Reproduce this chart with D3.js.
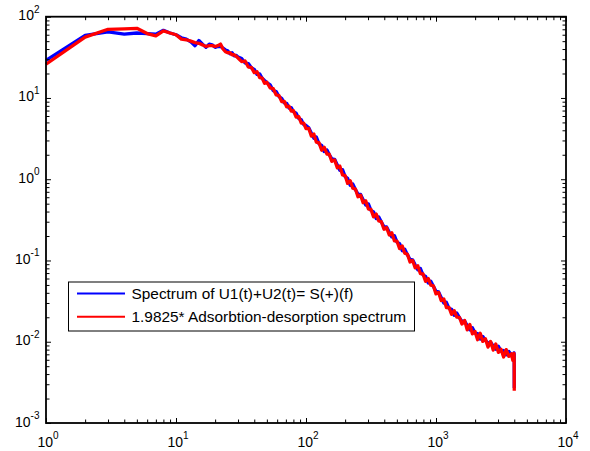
<!DOCTYPE html>
<html>
<head>
<meta charset="utf-8">
<script src="https://cdn.jsdelivr.net/npm/d3@7"></script>
<style>
  body { margin: 0; background: #fff; }
  text { font-family: "Liberation Sans", Arial, sans-serif; fill: #000; }
</style>
</head>
<body>
<div id="chart"></div>
<script>
// Frequencies (Hz) and spectra
const freq = [
  1, 2, 3, 4, 5, 6, 7, 8, 9, 10, 11, 12, 13, 14, 15, 16, 17, 18, 19, 20,
  21, 22, 23, 24, 25, 26, 27, 28, 29,
  30, 32, 34, 36, 38, 40, 42, 44, 46, 48, 50, 53, 56, 59, 62, 65, 68, 71, 74, 77,
  80, 84, 88, 92, 96, 100,
  105, 110, 115, 120, 126, 132, 138, 145, 151, 158, 166, 174, 182, 191, 200, 209,
  219, 229, 240, 251, 263, 275, 288, 302, 316, 331, 347, 363, 380, 398, 417, 437,
  457, 479, 501, 525, 550, 575, 603, 631, 661, 692, 724, 759, 794, 832, 871, 912,
  955, 1000, 1047, 1096, 1148, 1202, 1259, 1318, 1380, 1445, 1514, 1585, 1660,
  1738, 1820, 1905, 1995, 2089, 2188, 2291, 2399, 2512, 2630, 2754, 2884, 3020,
  3162, 3311, 3467, 3631, 3802, 3900, 3981, 3995, 4000
];

// Spectrum of U1(t)+U2(t) = S(+)(f)
const sumSpectrum = [
  29, 59, 65, 61, 63, 62, 61, 68, 63, 60, 55, 53, 49, 44, 51, 46, 42, 46, 45, 42,
  43, 43, 41, 39, 38, 35, 36, 33, 33.5,
  32, 30.5, 27, 26.5, 23.5, 22.5, 19.5, 19.8, 17.5, 16.4, 15.5, 14.5, 12.3, 12.0,
  10.4, 9.9, 8.7, 8.6, 7.5, 7.6, 6.8, 6.5, 5.6, 5.4, 4.7, 4.6,
  4.29, 3.68, 3.19, 3.31, 2.72, 2.61, 2.19, 2.29, 2.01, 1.78,
  1.76, 1.50, 1.29, 1.31, 1.076, 1.025, 0.840, 0.872, 0.749, 0.655,
  0.649, 0.559, 0.482, 0.497, 0.414, 0.397, 0.327, 0.343, 0.297, 0.260,
  0.259, 0.223, 0.195, 0.202, 0.168, 0.161, 0.132, 0.138, 0.118, 0.103,
  0.102, 0.0880, 0.0768, 0.0796, 0.0665, 0.0638, 0.0529, 0.0557, 0.0482, 0.0418,
  0.0410, 0.0350, 0.0300, 0.0306, 0.0257, 0.0251, 0.0212, 0.0226, 0.0198, 0.0177,
  0.0180, 0.0158, 0.0140, 0.0149, 0.0128, 0.0126, 0.0108, 0.0116, 0.0104, 0.0096,
  0.0099, 0.0089, 0.0081, 0.0088, 0.0077, 0.0078, 0.0069, 0.0076, 0.0069, 0.0067,
  0.0073, 0.0070, 0.0027
];

// 1.9825 * adsorption-desorption spectrum
const adsSpectrum = [
  26, 56, 70, 71, 72, 62, 58, 67, 63, 60, 53, 52, 50, 48, 47, 45, 43, 44, 44, 43,
  44, 46, 40, 37, 36, 36, 34, 34, 32.5,
  31, 28, 28.5, 24, 23.8, 20.5, 21, 17.8, 17.6, 15.2, 15.6, 13.3, 13.0, 10.9,
  10.7, 9.0, 9.1, 7.8, 7.9, 6.9, 7.0, 5.8, 5.9, 4.9, 4.9, 4.2,
  4.21, 3.39, 3.59, 2.86, 2.80, 2.27, 2.48, 2.04, 2.03, 1.66,
  1.73, 1.38, 1.45, 1.13, 1.108, 0.888, 0.955, 0.776, 0.756, 0.609,
  0.637, 0.515, 0.542, 0.429, 0.426, 0.344, 0.372, 0.306, 0.300, 0.242,
  0.254, 0.206, 0.219, 0.174, 0.173, 0.140, 0.151, 0.123, 0.119, 0.0959,
  0.100, 0.0811, 0.0863, 0.0688, 0.0685, 0.0553, 0.0602, 0.0496, 0.0487, 0.0388,
  0.0403, 0.0322, 0.0337, 0.0264, 0.0265, 0.0217, 0.0241, 0.0201, 0.0200, 0.0165,
  0.0183, 0.0140, 0.0163, 0.0125, 0.0134, 0.0106, 0.0127, 0.0101, 0.0109, 0.0086,
  0.0101, 0.0079, 0.0094, 0.0074, 0.0081, 0.0065, 0.0080, 0.0066, 0.0071, 0.0059,
  0.0072, 0.0063, 0.0025
];

const xMajor = [1, 10, 100, 1000, 10000];
const xExponents = ["0", "1", "2", "3", "4"];
const yMajor = [0.001, 0.01, 0.1, 1, 10, 100];
const yExponents = ["-3", "-2", "-1", "0", "1", "2"];
const legendLabels = [
  "Spectrum of U1(t)+U2(t)= S(+)(f)",
  "1.9825* Adsorbtion-desorption spectrum"
];
const seriesColors = ["#0000ff", "#ff0000"];

const width = 590, height = 451;
const plot = { left: 46, right: 566, top: 16.7, bottom: 423 };

const svg = d3.select("#chart").append("svg")
  .attr("width", width)
  .attr("height", height);

const x = d3.scaleLog().domain([1, 1e4]).range([plot.left, plot.right]);
const y = d3.scaleLog().domain([1e-3, 1e2]).range([plot.bottom, plot.top]);

// minor ticks 2..9 in each decade
const minorTicks = (lo, hi) => {
  const out = [];
  for (let e = lo; e < hi; e++) {
    for (let k = 2; k <= 9; k++) out.push(k * Math.pow(10, e));
  }
  return out;
};
const xMinor = minorTicks(0, 4);
const yMinor = minorTicks(-3, 2);

// Lines (blue underneath, red on top)
const line = d3.line()
  .x(d => x(d[0]))
  .y(d => y(d[1]));

[sumSpectrum, adsSpectrum].forEach((vals, i) => {
  svg.append("path")
    .datum(freq.map((f, j) => [f, vals[j]]))
    .attr("fill", "none")
    .attr("stroke", seriesColors[i])
    .attr("stroke-width", 3.3)
    .attr("stroke-linejoin", "round")
    .attr("d", line);
});

// Inward ticks on all four sides
function addTicks(axisFn, scale, values, size, transform) {
  const g = svg.append("g")
    .attr("transform", transform)
    .call(axisFn(scale).tickValues(values).tickSizeInner(-size).tickSizeOuter(0).tickFormat(""));
  g.select(".domain").remove();
  g.selectAll(".tick line").attr("stroke", "#000").attr("stroke-width", 1);
}
addTicks(d3.axisBottom, x, xMajor, 5, `translate(0,${plot.bottom})`);
addTicks(d3.axisBottom, x, xMinor, 3.5, `translate(0,${plot.bottom})`);
addTicks(d3.axisTop, x, xMajor, 5, `translate(0,${plot.top})`);
addTicks(d3.axisTop, x, xMinor, 3.5, `translate(0,${plot.top})`);
addTicks(d3.axisLeft, y, yMajor, 5, `translate(${plot.left},0)`);
addTicks(d3.axisLeft, y, yMinor, 3.5, `translate(${plot.left},0)`);
addTicks(d3.axisRight, y, yMajor, 5, `translate(${plot.right},0)`);
addTicks(d3.axisRight, y, yMinor, 3.5, `translate(${plot.right},0)`);

// Box
svg.append("rect")
  .attr("x", plot.left)
  .attr("y", plot.top)
  .attr("width", plot.right - plot.left)
  .attr("height", plot.bottom - plot.top)
  .attr("fill", "none")
  .attr("stroke", "#000")
  .attr("stroke-width", 1.8);

// Tick labels, 10 with superscript exponent
const xLab = svg.selectAll(".xlab")
  .data(xMajor)
  .join("text")
  .attr("class", "xlab")
  .attr("x", d => x(d) + 2)
  .attr("y", plot.bottom + 23.5)
  .attr("text-anchor", "middle")
  .style("font-size", "14px");
xLab.append("tspan").text("10");
xLab.append("tspan")
  .attr("dy", -7.5)
  .style("font-size", "10px")
  .text((d, i) => xExponents[i]);

const yLab = svg.selectAll(".ylab")
  .data(yMajor)
  .join("text")
  .attr("class", "ylab")
  .attr("x", plot.left - 6.5)
  .attr("y", d => y(d) + 3.5)
  .attr("text-anchor", "end")
  .style("font-size", "14px");
yLab.append("tspan").text("10");
yLab.append("tspan")
  .attr("dy", -7.5)
  .style("font-size", "10px")
  .text((d, i) => yExponents[i]);

// Legend
const legend = svg.append("g");
legend.append("rect")
  .attr("x", 68.5)
  .attr("y", 282)
  .attr("width", 346)
  .attr("height", 49)
  .attr("fill", "#fff")
  .attr("stroke", "#000")
  .attr("stroke-width", 1);

legendLabels.forEach((label, i) => {
  const ly = 293.5 + i * 23.3;
  legend.append("line")
    .attr("x1", 77).attr("x2", 125)
    .attr("y1", ly).attr("y2", ly)
    .attr("stroke", seriesColors[i])
    .attr("stroke-width", 2);
  legend.append("text")
    .attr("x", 131.5)
    .attr("y", ly + 5.5)
    .style("font-size", "15.4px")
    .text(label);
});
</script>
</body>
</html>
